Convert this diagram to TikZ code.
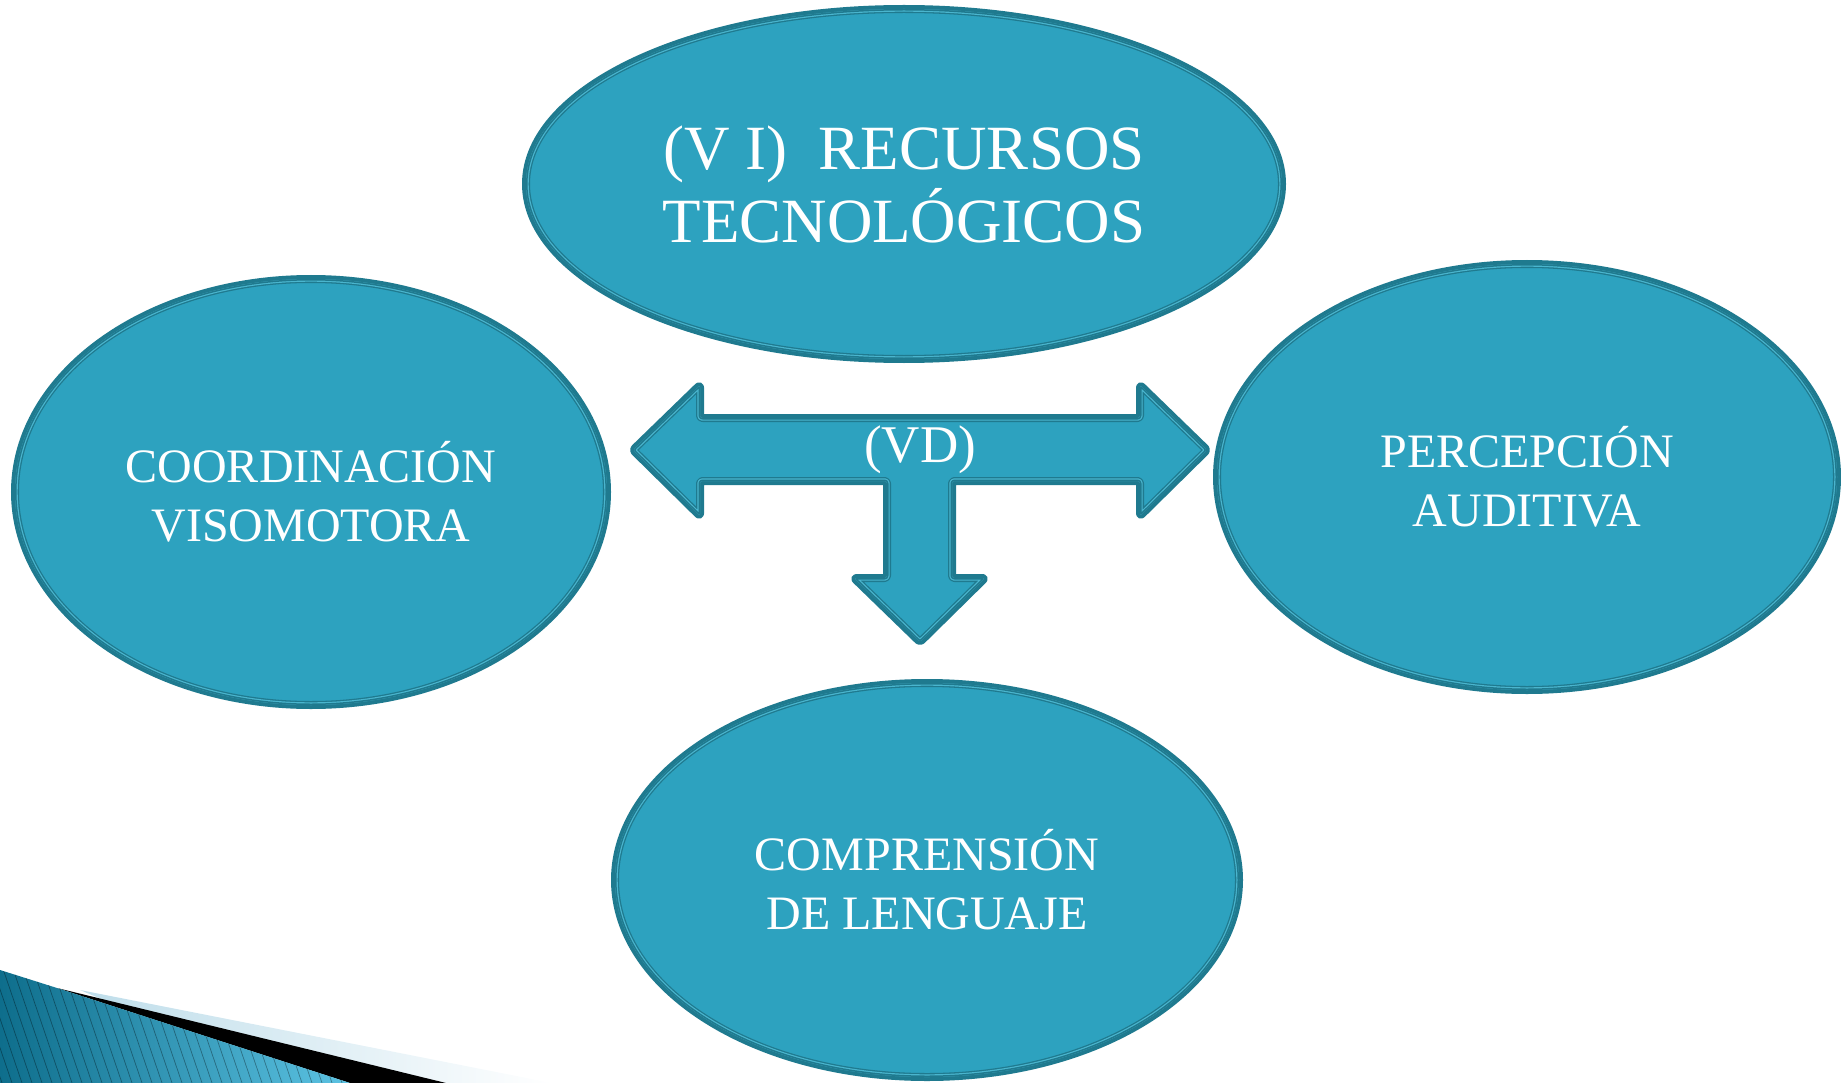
\documentclass[tikz,border=0pt]{standalone}
\usepackage{fontspec}
\setmainfont{Liberation Serif}
\usetikzlibrary{shapes.geometric}
\definecolor{tfill}{HTML}{2DA2BF}
\definecolor{tdark}{HTML}{1F7A8F}
\definecolor{tlight}{HTML}{4AB5CE}
\definecolor{swdark}{HTML}{0E6E8C}
\definecolor{swlight}{HTML}{5CC3E3}
\definecolor{pale}{HTML}{BEDDEA}
\newcommand{\ovalrim}[3]{%
  \begin{scope}
    \clip (#1.center) ellipse [x radius=#2pt, y radius=#3pt];
    \draw[tlight, line width=5.4pt] (#1.center) ellipse [x radius=#2pt, y radius=#3pt];
    \draw[tdark, line width=3pt] (#1.center) ellipse [x radius=#2pt, y radius=#3pt];
  \end{scope}}
\newcommand{\arrowpath}{(633,450) -- (700,385) -- (700,418) -- (1140,418) -- (1140,385)
  -- (1207,450) -- (1140,516) -- (1140,481) -- (952,481) -- (952,578) -- (985,578)
  -- (920,642) -- (854,578) -- (887,578) -- (887,481) -- (700,481) -- (700,516) -- cycle}
\begin{document}
\begin{tikzpicture}[x=1pt,y=-1pt,
  oval/.style={ellipse, fill=tfill, draw=tdark, line width=8pt,
    inner sep=0pt, text=white, align=center},
  ovaltext/.style={font=\fontsize{48}{59}\selectfont},
  bigtext/.style={font=\fontsize{63}{73}\selectfont},
  lbl/.style={text=white, inner sep=0pt}]
\useasboundingbox (0,0) rectangle (1841,1083);

% bottom-left swoosh
\shade[left color=pale, right color=white] (80,990) -- (552,1083) -- (300,1083) -- cycle;
\fill[black] (57,988) -- (446,1083) -- (350,1083) -- cycle;
\shade[left color=swdark, right color=swlight] (0,970) -- (57,988) -- (350,1083) -- (0,1083) -- cycle;
\begin{scope}
  \clip (0,970) -- (57,988) -- (350,1083) -- (0,1083) -- cycle;
  \foreach \i in {-60,-50,...,360}
    \draw[black, opacity=0.35, line width=0.7pt] (\i,960) -- (\i+42,1083);
\end{scope}

% ellipses
\node[oval, bigtext, minimum width=756pt, minimum height=350pt] (vi) at (904,184)
  {(V I)~~RECURSOS\\TECNOLÓGICOS};
\ovalrim{vi}{378}{175}
\node[oval, ovaltext, minimum width=592pt, minimum height=426pt] (cv) at (311,492)
  {COORDINACIÓN\\VISOMOTORA};
\ovalrim{cv}{296}{213}
\node[oval, ovaltext, minimum width=620pt, minimum height=426pt] (pa) at (1527,477)
  {PERCEPCIÓN\\AUDITIVA};
\ovalrim{pa}{310}{213}
\node[oval, ovaltext, minimum width=624pt, minimum height=394pt] (cl) at (927,880)
  {COMPRENSIÓN\\DE LENGUAJE};
\ovalrim{cl}{312}{197}

% three-way arrow
\fill[tfill, rounded corners=2.5pt] \arrowpath;
\draw[tdark, line width=8pt, line join=round, rounded corners=2.5pt] \arrowpath;
\begin{scope}
  \clip[rounded corners=2.5pt] \arrowpath;
  \draw[tlight, line width=5.4pt, line join=round, rounded corners=2.5pt] \arrowpath;
  \draw[tdark, line width=3pt, line join=round, rounded corners=2.5pt] \arrowpath;
\end{scope}
\node[lbl, font=\fontsize{53}{60}\selectfont] (vd) at (920,450) {(VD)};
\end{tikzpicture}
\end{document}
